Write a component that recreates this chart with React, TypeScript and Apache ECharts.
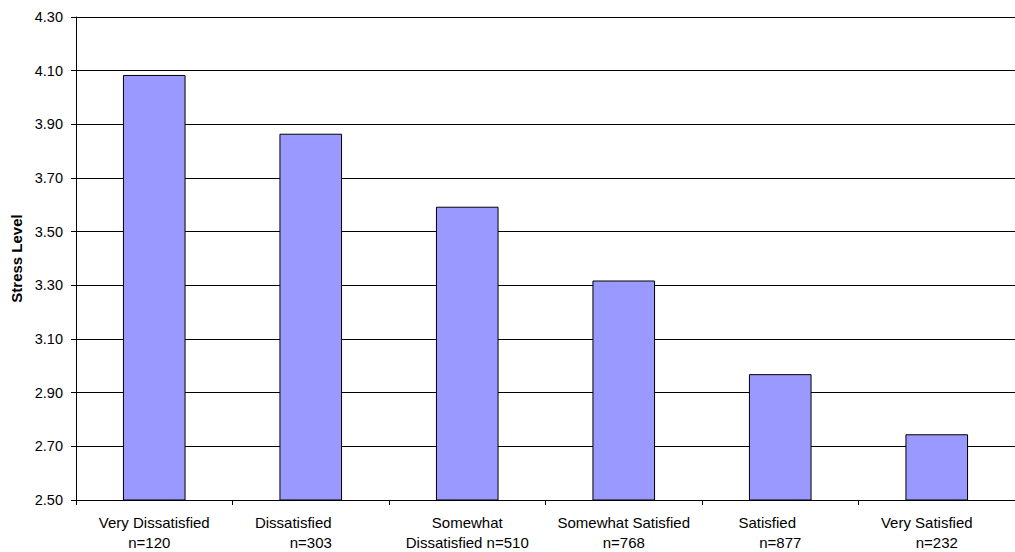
import React, { useEffect, useRef } from "react";
import * as echarts from "echarts";

const categoryNames = ["Very Dissatisfied", "Dissatisfied", "Somewhat\nDissatisfied", "Somewhat Satisfied", "Satisfied", "Very Satisfied"];
const sampleSizes = [120, 303, 510, 768, 877, 232];
const stressValues = [4.084, 3.865, 3.593, 3.318, 2.969, 2.745];
const yTicks = { min: 2.5, max: 4.3, step: 0.2 };

const FONT = "Liberation Sans, Arial, sans-serif";

export default function App() {
  const ref = useRef<HTMLDivElement>(null);
  useEffect(() => {
    if (!ref.current) return;
    const chart = echarts.init(ref.current, null, { renderer: "svg" });
    const labels = categoryNames.map((c, i) =>
      i === 2 ? `Somewhat\nDissatisfied n=${sampleSizes[i]}` : `${c}\nn=${sampleSizes[i]}`
    );
    // per-category line styles reproducing Excel's wrapped-text offsets
    const firstLineStyle = ["c", "l35", "c", "c", "l26", "l20"];
    const secondLineStyle = ["l10", "c", "c", "c", "c", "c"];
    const base = { fontSize: 15, lineHeight: 20, color: "#000", fontFamily: FONT };
    chart.setOption({
      animation: false,
      grid: { left: 76, top: 17, width: 949, bottom: 51, containLabel: false },
      xAxis: {
        type: "category",
        data: labels,
        axisLine: { show: true, lineStyle: { color: "#000", width: 1 } },
        axisTick: { show: true, alignWithLabel: false, length: 5, lineStyle: { color: "#000" } },
        axisLabel: {
          interval: 0,
          margin: 12,
          ...base,
          formatter: (v: string, i: number) => {
            const parts = v.split("\n");
            return `{${firstLineStyle[i]}|${parts[0]}}\n{${secondLineStyle[i]}|${parts[1]}}`;
          },
          rich: {
            c: { ...base },
            l35: { ...base, padding: [0, 35, 0, 0] },
            l26: { ...base, padding: [0, 26, 0, 0] },
            l20: { ...base, padding: [0, 20, 0, 0] },
            l10: { ...base, padding: [0, 10, 0, 0] },
          },
        },
        splitLine: { show: false },
      },
      yAxis: {
        type: "value",
        min: yTicks.min,
        max: yTicks.max,
        interval: yTicks.step,
        name: "Stress Level",
        nameLocation: "middle",
        nameGap: 51,
        nameRotate: 90,
        nameTextStyle: { fontWeight: "bold", fontSize: 15, color: "#000", fontFamily: FONT },
        axisLine: { show: true, lineStyle: { color: "#000", width: 1 } },
        axisTick: { show: true, length: 5, lineStyle: { color: "#000" } },
        axisLabel: {
          margin: 13,
          color: "#000",
          fontSize: 14.5,
          fontFamily: FONT,
          formatter: (v: number) => v.toFixed(2),
        },
        splitLine: { show: true, lineStyle: { color: "#000", width: 1 } },
      },
      series: [
        {
          type: "bar",
          data: stressValues,
          barCategoryGap: "60%",
          itemStyle: { color: "#9999FF", borderColor: "#000", borderWidth: 1 },
        },
      ],
    });
    return () => chart.dispose();
  }, []);
  return <div ref={ref} style={{ position: "absolute", left: 0, top: 0, width: 1015, height: 552, background: "#fff" }} />;
}
